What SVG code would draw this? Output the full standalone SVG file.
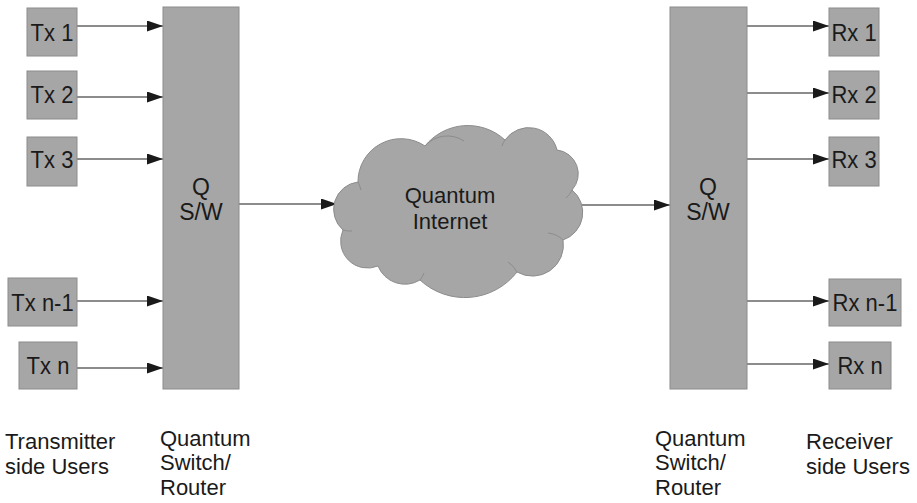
<svg xmlns="http://www.w3.org/2000/svg" width="917" height="503" viewBox="0 0 917 503">
<style>
.box{fill:#a6a6a6;stroke:#8c8c8c;stroke-width:1}
.crease{fill:none;stroke:#8c8c8c;stroke-width:1}
.t{font-family:"Liberation Sans",Arial,sans-serif;font-size:22px;fill:#1a1a1a}
.s{font-size:23px}
.c{text-anchor:middle}
.ln{stroke:#1a1a1a;stroke-width:1.2;fill:none;marker-end:url(#ah)}
</style>
<defs>
<marker id="ah" markerWidth="16" markerHeight="11" refX="16" refY="5.5" orient="auto" markerUnits="userSpaceOnUse">
<path d="M0,0 L16,5.5 L0,11 Z" fill="#1a1a1a"/>
</marker>
</defs>
<rect width="917" height="503" fill="#ffffff"/>
<g id="connectors">
<line class="ln" x1="77" y1="26" x2="163" y2="26"/>
<line class="ln" x1="77" y1="97" x2="163" y2="97"/>
<line class="ln" x1="77" y1="159" x2="163" y2="159"/>
<line class="ln" x1="77" y1="301" x2="163" y2="301"/>
<line class="ln" x1="77" y1="368" x2="163" y2="368"/>
<line class="ln" x1="239" y1="204" x2="337" y2="204"/>
<line class="ln" x1="582" y1="205" x2="670" y2="205"/>
<line class="ln" x1="747" y1="26" x2="829" y2="26"/>
<line class="ln" x1="747" y1="93" x2="829" y2="93"/>
<line class="ln" x1="747" y1="159" x2="829" y2="159"/>
<line class="ln" x1="747" y1="301" x2="829" y2="301"/>
<line class="ln" x1="747" y1="364" x2="829" y2="364"/>
</g>
<g id="tx1"><rect class="box" x="27" y="8" width="50" height="48"/><text class="t c" transform="translate(52,41) scale(1,1.12)">Tx 1</text></g>
<g id="tx2"><rect class="box" x="27" y="71" width="50" height="48"/><text class="t c" transform="translate(52,103) scale(1,1.12)">Tx 2</text></g>
<g id="tx3"><rect class="box" x="27" y="137" width="50" height="49"/><text class="t c" transform="translate(52,168) scale(1,1.12)">Tx 3</text></g>
<g id="txn1"><rect class="box" x="8" y="278" width="69" height="48"/><text class="t c" transform="translate(42.5,311) scale(1,1.12)">Tx n-1</text></g>
<g id="txn"><rect class="box" x="19" y="342" width="58" height="47"/><text class="t c" transform="translate(48,374) scale(1,1.12)">Tx n</text></g>
<g id="switch-left"><rect class="box" x="163" y="7" width="76" height="382"/><text class="t s c" x="201" y="195">Q</text><text class="t s c" x="201" y="220">S/W</text></g>
<g id="cloud">
<path class="box" d="M343,230 A27.5,27.5 0 0 1 358,182 A43,43 0 0 1 425,146 A55,55 0 0 1 505,140 A29,29 0 0 1 557,150 A24,24 0 0 1 572,190 A29,29 0 0 1 563,240 A31,31 0 0 1 517,272 A66,66 0 0 1 420,280 A29,29 0 0 1 378,266 A27,27 0 0 1 343,230 Z"/>
<path class="crease" d="M358,182 A40,40 0 0 1 361,190 M425,146 A30,30 0 0 1 464,141 M505,140 A20,20 0 0 0 502,146 M572,190 A20,20 0 0 1 566,198 M563,240 A25,25 0 0 0 548,233 M517,272 A25,25 0 0 0 508,262 M420,280 A25,25 0 0 0 424,273 M343,230 A25,25 0 0 0 352,231"/>
<text class="t c" x="450" y="203">Quantum</text><text class="t c" x="450" y="229">Internet</text>
</g>
<g id="switch-right"><rect class="box" x="670" y="7" width="77" height="382"/><text class="t s c" x="708" y="195">Q</text><text class="t s c" x="708" y="220">S/W</text></g>
<g id="rx1"><rect class="box" x="829" y="8" width="50" height="48"/><text class="t c" transform="translate(854,41) scale(1,1.12)">Rx 1</text></g>
<g id="rx2"><rect class="box" x="829" y="71" width="50" height="48"/><text class="t c" transform="translate(854,103) scale(1,1.12)">Rx 2</text></g>
<g id="rx3"><rect class="box" x="829" y="137" width="50" height="49"/><text class="t c" transform="translate(854,168) scale(1,1.12)">Rx 3</text></g>
<g id="rxn1"><rect class="box" x="829" y="279" width="72" height="47"/><text class="t c" transform="translate(865,311) scale(1,1.12)">Rx n-1</text></g>
<g id="rxn"><rect class="box" x="829" y="342" width="62" height="47"/><text class="t c" transform="translate(860,374) scale(1,1.12)">Rx n</text></g>
<g id="labels">
<text class="t" x="5" y="449">Transmitter</text>
<text class="t" x="5" y="474">side Users</text>
<text class="t" x="160" y="446">Quantum</text>
<text class="t" x="160" y="470">Switch/</text>
<text class="t" x="160" y="495">Router</text>
<text class="t" x="655" y="446">Quantum</text>
<text class="t" x="655" y="470">Switch/</text>
<text class="t" x="655" y="495">Router</text>
<text class="t" x="806" y="449">Receiver</text>
<text class="t" x="806" y="474">side Users</text>
</g>
</svg>
